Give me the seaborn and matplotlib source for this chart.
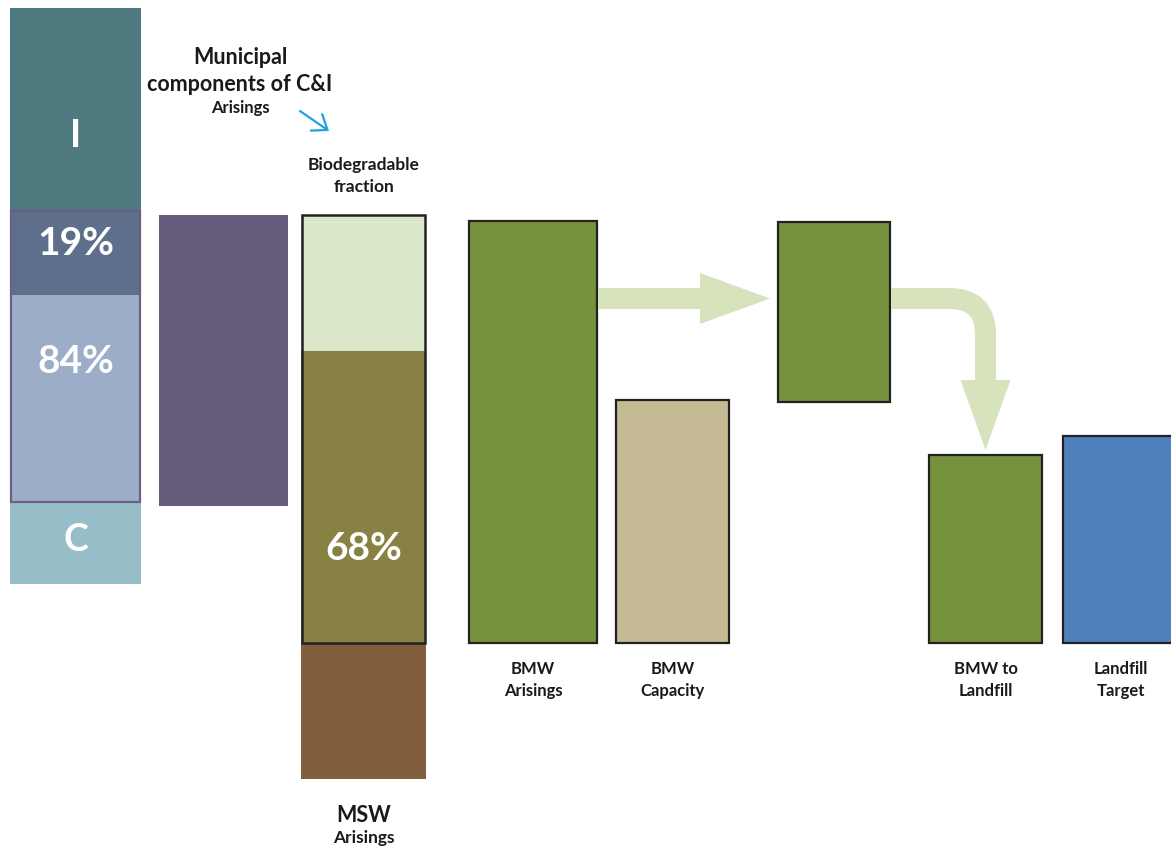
import matplotlib
matplotlib.use("Agg")
import matplotlib.pyplot as plt
import seaborn as sns
from matplotlib.path import Path
from matplotlib.patches import PathPatch, Polygon

# ---------------- data ----------------
ci_labels = ["C", "84%", "19%", "I"]
ci_values = [82, 207, 84, 203]
ci_base = 59

mci_base = 137
mci_value = 291

msw_labels = ["Other", "68%", "Biodegradable"]
msw_values = [136, 292, 136]
msw_base = -136

bmw_labels = ["BMW\nArisings", "BMW\nCapacity", "", "BMW to\nLandfill", "Landfill\nTarget"]
bmw_bottoms = [0, 0, 241, 0, 0]
bmw_values = [422, 243, 180, 188, 207]

# ---------------- layout / style ----------------
bar_left = [10, 159, 301, 468, 615, 777, 928, 1062]
bar_width = [131, 129, 125, 130, 115, 114, 115, 118]
ci_label_frac = [0.54, 0.68, 0.61, 0.37]   # vertical placement of label within segment
ci_colors = ["#96BDC8", "#9BADC7", "#5E6F8B", "#4E7A7F"]
msw_colors = ["#815F3E", "#878244", "#DAE7C9"]
bmw_colors = ["#77923C", "#C4BA94", "#77923C", "#77923C", "#4F80BB"]
arrow_col = "#D6E3BD"
edge_dark = "#222222"
text_col = "#1a1a1a"
arrow_level = 344.5

sns.set_theme(style="white")
plt.rcParams['font.family'] = ['Lato', 'DejaVu Sans']

fig = plt.figure(figsize=(11.71, 8.47), dpi=100)
ax = fig.add_axes([0, 0, 1, 1])
ax.set_xlim(0, 1171)
ax.set_ylim(643 - 847, 643)
ax.set_axis_off()

# C&I stacked bar
bottom = ci_base
ci_cx = bar_left[0] + bar_width[0] / 2
for lab, v, c, f in zip(ci_labels, ci_values, ci_colors, ci_label_frac):
    ax.bar(ci_cx, v, width=bar_width[0], bottom=bottom, color=c, linewidth=0)
    ax.text(ci_cx, bottom + v * f, lab, color="white",
            fontsize=28 if "%" in lab else 27, fontweight="bold", ha="center", va="center")
    bottom += v
# outline around the municipal part (84% + 19%)
out_bot = ci_base + ci_values[0]
out_h = ci_values[1] + ci_values[2]
ax.bar(ci_cx, out_h, width=bar_width[0] - 2, bottom=out_bot, fill=False,
       edgecolor="#6E5E86", linewidth=1.6)

# Municipal components of C&I
mcx = bar_left[1] + bar_width[1] / 2
ax.bar(mcx, mci_value, width=bar_width[1], bottom=mci_base, color="#665C7B", linewidth=0)

# MSW stacked
mscx = bar_left[2] + bar_width[2] / 2
bottom = msw_base
for lab, v, c in zip(msw_labels, msw_values, msw_colors):
    ax.bar(mscx, v, width=bar_width[2], bottom=bottom, color=c, linewidth=0)
    if "%" in lab:
        ax.text(mscx, bottom + 95, lab, color="white", fontsize=28,
                fontweight="bold", ha="center", va="center")
    bottom += v
ax.bar(mscx, msw_values[1] + msw_values[2], width=bar_width[2] - 2, bottom=0, fill=False,
       edgecolor=edge_dark, linewidth=1.8)

# BMW bars
for i, (lab, b, v, c) in enumerate(zip(bmw_labels, bmw_bottoms, bmw_values, bmw_colors)):
    k = i + 3
    cx = bar_left[k] + bar_width[k] / 2
    ax.bar(cx, v, width=bar_width[k] - 2, bottom=b, color=c, edgecolor=edge_dark, linewidth=1.6)
    if lab:
        l1, l2 = lab.split("\n")
        ax.text(cx, -26, l1, fontsize=12, fontweight="bold", ha="center", va="center", color=text_col)
        ax.text(cx, -48, l2, fontsize=12, fontweight="bold", ha="center", va="center", color=text_col)

# horizontal arrow from BMW Arisings to middle bar
x0 = bar_left[3] + bar_width[3]
x1 = bar_left[5] - 7
head_len = 70
shaft_hw = 10.5
head_hw = 25.5
ax.add_patch(Polygon([(x0, arrow_level + shaft_hw), (x1 - head_len, arrow_level + shaft_hw),
                      (x1 - head_len, arrow_level + head_hw), (x1, arrow_level),
                      (x1 - head_len, arrow_level - head_hw), (x1 - head_len, arrow_level - shaft_hw),
                      (x0, arrow_level - shaft_hw)], closed=True, color=arrow_col, lw=0))

# curved arrow to BMW to Landfill
cx0 = bar_left[5] + bar_width[5]
vx = bar_left[6] + bar_width[6] / 2
tip_y = bmw_values[3] + 5
r = 36
verts = [(cx0, arrow_level), (vx - r, arrow_level), (vx, arrow_level), (vx, arrow_level - r),
         (vx, tip_y + 70)]
codes = [Path.MOVETO, Path.LINETO, Path.CURVE3, Path.CURVE3, Path.LINETO]
ax.add_patch(PathPatch(Path(verts, codes), fill=False, edgecolor=arrow_col, lw=15.1,
                       capstyle="butt", joinstyle="round"))
ax.add_patch(Polygon([(vx - 25, tip_y + 70), (vx + 25, tip_y + 70), (vx, tip_y)], closed=True,
                     color=arrow_col, lw=0))

# annotations
ax.text(240, 643 - 57, "Municipal", fontsize=15.5, fontweight="bold", ha="center", va="center", color=text_col)
ax.text(240, 643 - 84, "components of C&I", fontsize=15.5, fontweight="bold", ha="center", va="center", color=text_col)
ax.text(240, 643 - 108, "Arisings", fontsize=12, fontweight="bold", ha="center", va="center", color=text_col)
ax.annotate("", xy=(329, 643 - 131), xytext=(300, 643 - 111),
            arrowprops=dict(arrowstyle="->,head_length=0.6,head_width=0.45", color="#1FA3DF", lw=1.6,
                            mutation_scale=16, shrinkA=0, shrinkB=0))
ax.text(mscx, 643 - 165, "Biodegradable", fontsize=12.5, fontweight="bold", ha="center", va="center", color=text_col)
ax.text(mscx, 643 - 187, "fraction", fontsize=12.5, fontweight="bold", ha="center", va="center", color=text_col)
ax.text(mscx, 643 - 815, "MSW", fontsize=15.5, fontweight="bold", ha="center", va="center", color=text_col)
ax.text(mscx, 643 - 838, "Arisings", fontsize=12.5, fontweight="bold", ha="center", va="center", color=text_col)

fig.savefig("out.png", dpi=100)
